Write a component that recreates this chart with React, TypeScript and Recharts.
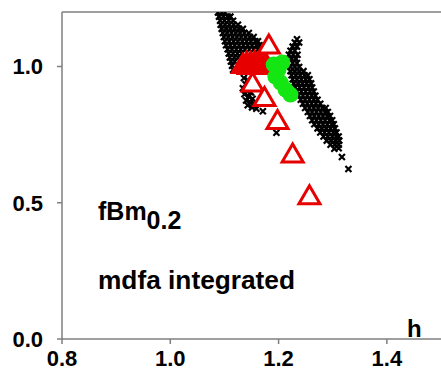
import React from "react";
import { ReferenceLine, Scatter, ScatterChart, XAxis, YAxis } from "recharts";

const RED = "#e60000";
const GREEN = "#14e614";
const AXIS = "#7f7f7f";
const FONT = "'Liberation Sans', Arial, Helvetica, sans-serif";

const X_TICKS = [0.8, 1.0, 1.2, 1.4];
const Y_TICKS = [0, 0.5, 1.0];

// black crosses: upper-left part of the band
const crossUpper: [number, number][] = [
  [1.088, 1.198], [1.095, 1.198], [1.101, 1.198],
  [1.090, 1.183], [1.098, 1.183], [1.106, 1.183], [1.111, 1.183],
  [1.092, 1.168], [1.100, 1.168], [1.108, 1.168], [1.116, 1.168],
  [1.093, 1.153], [1.101, 1.153], [1.109, 1.153], [1.117, 1.153], [1.125, 1.153],
  [1.095, 1.138], [1.103, 1.138], [1.111, 1.138], [1.119, 1.138], [1.127, 1.138], [1.134, 1.138],
  [1.097, 1.123], [1.105, 1.123], [1.113, 1.123], [1.121, 1.123], [1.129, 1.123], [1.137, 1.123], [1.145, 1.123],
  [1.099, 1.108], [1.107, 1.108], [1.115, 1.108], [1.123, 1.108], [1.131, 1.108], [1.139, 1.108], [1.147, 1.108], [1.154, 1.108],
  [1.101, 1.093], [1.109, 1.093], [1.117, 1.093], [1.125, 1.093], [1.133, 1.093], [1.141, 1.093], [1.149, 1.093], [1.157, 1.093], [1.162, 1.093],
  [1.103, 1.078], [1.111, 1.078], [1.119, 1.078], [1.127, 1.078], [1.135, 1.078], [1.143, 1.078], [1.151, 1.078], [1.159, 1.078], [1.165, 1.078],
  [1.106, 1.063], [1.114, 1.063], [1.122, 1.063], [1.130, 1.063], [1.138, 1.063], [1.146, 1.063], [1.154, 1.063], [1.162, 1.063], [1.168, 1.063],
  [1.108, 1.048], [1.116, 1.048], [1.124, 1.048], [1.132, 1.048],
  [1.110, 1.033], [1.118, 1.033], [1.125, 1.033],
  [1.112, 1.018], [1.119, 1.018],
  [1.114, 1.003], [1.116, 0.988],
];

// black crosses: the short right arm of the "X"
const crossArm: [number, number][] = [
  [1.234, 1.100],
  [1.230, 1.088], [1.238, 1.088],
  [1.226, 1.073], [1.234, 1.073],
  [1.222, 1.058], [1.230, 1.058],
  [1.219, 1.043], [1.227, 1.043], [1.235, 1.043],
  [1.216, 1.028], [1.224, 1.028], [1.232, 1.028],
  [1.226, 1.013], [1.234, 1.013],
  [1.222, 0.998], [1.230, 0.998], [1.238, 0.998],
];

// black crosses: lower-right part of the band
const crossLower: [number, number][] = [
  [1.222, 0.983], [1.230, 0.983], [1.238, 0.983], [1.246, 0.983],
  [1.224, 0.968], [1.232, 0.968], [1.240, 0.968], [1.248, 0.968], [1.254, 0.968],
  [1.226, 0.953], [1.234, 0.953], [1.242, 0.953], [1.250, 0.953], [1.257, 0.953],
  [1.228, 0.938], [1.236, 0.938], [1.244, 0.938], [1.252, 0.938], [1.260, 0.938],
  [1.231, 0.923], [1.239, 0.923], [1.247, 0.923], [1.255, 0.923], [1.262, 0.923],
  [1.234, 0.908], [1.242, 0.908], [1.250, 0.908], [1.258, 0.908], [1.265, 0.908],
  [1.237, 0.893], [1.245, 0.893], [1.253, 0.893], [1.261, 0.893], [1.268, 0.893],
  [1.241, 0.878], [1.249, 0.878], [1.257, 0.878], [1.265, 0.878], [1.272, 0.878],
  [1.245, 0.863], [1.253, 0.863], [1.261, 0.863], [1.269, 0.863], [1.277, 0.863],
  [1.249, 0.848], [1.257, 0.848], [1.265, 0.848], [1.273, 0.848], [1.281, 0.848], [1.287, 0.848],
  [1.254, 0.833], [1.262, 0.833], [1.270, 0.833], [1.278, 0.833], [1.286, 0.833], [1.291, 0.833],
  [1.258, 0.818], [1.266, 0.818], [1.274, 0.818], [1.282, 0.818], [1.290, 0.818], [1.295, 0.818],
  [1.262, 0.803], [1.270, 0.803], [1.278, 0.803], [1.286, 0.803], [1.294, 0.803], [1.299, 0.803],
  [1.266, 0.788], [1.274, 0.788], [1.282, 0.788], [1.290, 0.788], [1.298, 0.788], [1.302, 0.788],
  [1.272, 0.773], [1.280, 0.773], [1.288, 0.773], [1.296, 0.773], [1.304, 0.773],
  [1.277, 0.758], [1.285, 0.758], [1.293, 0.758], [1.301, 0.758], [1.307, 0.758],
  [1.283, 0.743], [1.291, 0.743], [1.299, 0.743], [1.306, 0.743], [1.311, 0.743],
  [1.289, 0.728], [1.297, 0.728], [1.305, 0.728], [1.312, 0.728],
  [1.296, 0.713], [1.304, 0.713], [1.311, 0.713],
  [1.303, 0.698], [1.311, 0.700],
  [1.317, 0.668], [1.329, 0.624],
];

// black crosses: lower-left tail under the red cluster
const crossTail: [number, number][] = [
  [1.136, 0.958], [1.143, 0.950], [1.139, 0.935], [1.146, 0.928], [1.134, 0.920],
  [1.141, 0.912], [1.149, 0.905], [1.137, 0.898], [1.145, 0.890], [1.152, 0.882],
  [1.140, 0.875], [1.148, 0.868], [1.156, 0.862], [1.143, 0.858], [1.151, 0.850],
  [1.159, 0.845], [1.171, 0.836], [1.196, 0.757],
];

// red solid triangles
const redSolid: [number, number][] = [
  [1.134, 1.004], [1.141, 1.011], [1.148, 1.011], [1.156, 1.015],
  [1.163, 1.011], [1.169, 1.004], [1.145, 1.000], [1.158, 1.000],
  [1.176, 1.008],
];

// red open triangles
const redOpen: [number, number][] = [
  [1.182, 1.075], [1.152, 0.936], [1.174, 0.883],
  [1.198, 0.798], [1.226, 0.675], [1.257, 0.522],
];

// green circles
const greenDots: [number, number][] = [
  [1.191, 1.007], [1.207, 1.015], [1.200, 0.989], [1.194, 0.963],
  [1.204, 0.941], [1.213, 0.915], [1.222, 0.897],
];

const pts = (pairs: [number, number][]) => pairs.map(([x, y]) => ({ x, y }));
const crossData = pts([...crossUpper, ...crossArm, ...crossLower, ...crossTail]);

const Cross = ({ cx, cy }: any) => (
  <path
    d={`M${cx - 3},${cy - 3}L${cx + 3},${cy + 3}M${cx + 3},${cy - 3}L${cx - 3},${cy + 3}`}
    stroke="#000"
    strokeWidth={2.2}
  />
);

const triPoints = (cx: number, cy: number) =>
  `${cx},${cy - 11} ${cx - 10.5},${cy + 7} ${cx + 10.5},${cy + 7}`;

const OpenTri = ({ cx, cy }: any) => (
  <polygon points={triPoints(cx, cy)} fill="#fff" stroke={RED} strokeWidth={3} />
);

const SolidTri = ({ cx, cy }: any) => (
  <polygon points={triPoints(cx, cy)} fill={RED} stroke={RED} strokeWidth={3} />
);

const Dot = ({ cx, cy }: any) => <circle cx={cx} cy={cy} r={8} fill={GREEN} />;

const tickStyle = { fontSize: 22, fontWeight: 700, fill: "#000", fontFamily: FONT };

export default function App() {
  return (
    <div style={{ position: "absolute", left: 0, top: 0, width: 441, height: 382, background: "#fff" }}>
      <ScatterChart width={441} height={382} margin={{ top: 12, right: 0, bottom: 0, left: 0 }}>
        <XAxis
          type="number"
          dataKey="x"
          domain={[0.8, 1.5]}
          ticks={X_TICKS}
          tickFormatter={(v: number) => v.toFixed(1)}
          allowDataOverflow
          height={43}
          tickSize={5}
          tickMargin={6}
          stroke={AXIS}
          strokeWidth={1.5}
          tick={tickStyle}
        />
        <YAxis
          type="number"
          dataKey="y"
          domain={[0, 1.2]}
          ticks={Y_TICKS}
          tickFormatter={(v: number) => v.toFixed(1)}
          allowDataOverflow
          width={62}
          tickSize={5}
          tickMargin={14}
          stroke={AXIS}
          strokeWidth={1.5}
          tick={tickStyle}
        />
        <ReferenceLine y={1.2} stroke={AXIS} strokeWidth={1.5} />
        <Scatter data={crossData} shape={Cross} isAnimationActive={false} />
        <Scatter data={pts(redSolid)} shape={SolidTri} isAnimationActive={false} />
        <Scatter data={pts(redOpen)} shape={OpenTri} isAnimationActive={false} />
        <Scatter data={pts(greenDots)} shape={Dot} isAnimationActive={false} />
      </ScatterChart>
      <svg
        width={441}
        height={382}
        style={{ position: "absolute", left: 0, top: 0, pointerEvents: "none" }}
      >
        <g fontFamily={FONT} fontWeight={700} fill="#000">
          <text x={98} y={220} fontSize={25}>
            fBm
            <tspan dy={9} fontSize={25}>0.2</tspan>
          </text>
          <text x={98} y={289} fontSize={25} textLength={197} lengthAdjust="spacingAndGlyphs">
            mdfa integrated
          </text>
          <text x={407} y={337} fontSize={24}>h</text>
        </g>
      </svg>
    </div>
  );
}
